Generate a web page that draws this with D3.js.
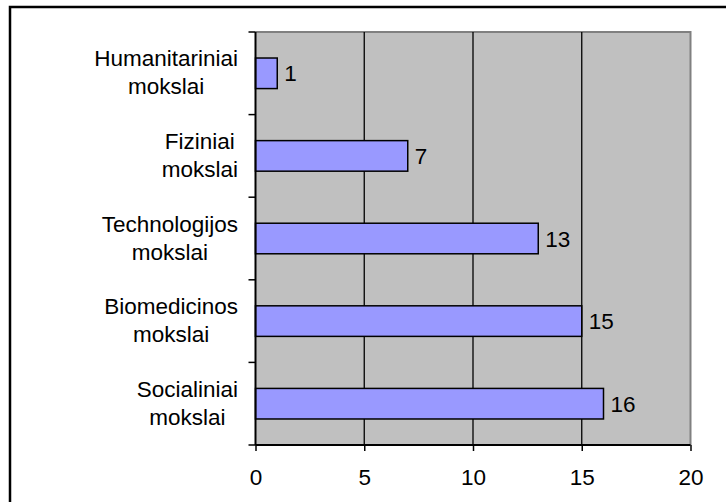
<!DOCTYPE html>
<html>
<head>
<meta charset="utf-8">
<script src="https://cdn.jsdelivr.net/npm/d3@7"></script>
<style>
  body { margin: 0; background: #fff; }
  svg text { font-family: "Liberation Sans", Arial, sans-serif; fill: #000; }
</style>
</head>
<body>
<svg></svg>
<script>
// data, top to bottom
let categories = [
  ["Humanitariniai", "mokslai"],
  ["Fiziniai", "mokslai"],
  ["Technologijos", "mokslai"],
  ["Biomedicinos", "mokslai"],
  ["Socialiniai", "mokslai"]
]
let values = [1, 7, 13, 15, 16]
let xTicks = [0, 5, 10, 15, 20]

let width = 726
let height = 502
let plot = { left: 255.5, right: 690.5, top: 32, bottom: 445 }
let fontSize = 22.5

let svg = d3.select("svg")
  .attr("width", width)
  .attr("height", height)

// outer frame, runs off the right and bottom edges
svg.append("rect")
   .attr("x", 10)
   .attr("y", 7)
   .attr("width", 760)
   .attr("height", 560)
   .attr("fill", "#fff")
   .attr("stroke", "#000")
   .attr("stroke-width", 2.5)

let xScale = d3.scaleLinear()
               .domain([0, 20])
               .range([plot.left, plot.right])

// bars get ~37% of each category slot, centred in it
let yScale = d3.scaleBand()
               .domain(d3.range(values.length))
               .range([plot.top, plot.bottom])
               .paddingInner(0.63)
               .paddingOuter(0.315)

let yOuter = d3.scaleBand()
               .domain(d3.range(values.length))
               .range([plot.top, plot.bottom])

// plot background
svg.append("rect")
   .attr("x", plot.left)
   .attr("y", plot.top)
   .attr("width", plot.right - plot.left)
   .attr("height", plot.bottom - plot.top)
   .attr("fill", "#c0c0c0")

// top and right border are grey
svg.append("path")
   .attr("d", `M${plot.left},${plot.top}H${plot.right}V${plot.bottom}`)
   .attr("fill", "none")
   .attr("stroke", "#808080")
   .attr("stroke-width", 2)

// vertical gridlines
svg.selectAll(".grid")
   .data(xTicks.filter(t => t > 0 && t < 20))
   .enter()
   .append("line")
   .attr("class", "grid")
   .attr("x1", d => xScale(d))
   .attr("x2", d => xScale(d))
   .attr("y1", plot.top)
   .attr("y2", plot.bottom)
   .attr("stroke", "#000")
   .attr("stroke-width", 1.3)

// bars
svg.selectAll(".bar")
   .data(values)
   .enter()
   .append("rect")
   .attr("class", "bar")
   .attr("x", xScale(0))
   .attr("y", (d, i) => yScale(i))
   .attr("width", d => xScale(d) - xScale(0))
   .attr("height", yScale.bandwidth())
   .attr("fill", "#9999ff")
   .attr("stroke", "#000")
   .attr("stroke-width", 1.5)

// value labels
svg.selectAll(".val")
   .data(values)
   .enter()
   .append("text")
   .attr("class", "val")
   .attr("x", d => xScale(d) + 7)
   .attr("y", (d, i) => yScale(i) + yScale.bandwidth() / 2 + 8)
   .attr("font-size", fontSize)
   .text(d => d)

// x axis
let xAxis = d3.axisBottom(xScale)
              .tickValues(xTicks)
              .tickSize(6)
              .tickPadding(18)
let gx = svg.append("g")
            .attr("transform", "translate(0," + plot.bottom + ")")
            .call(xAxis)
gx.select(".domain").attr("stroke", "#000").attr("stroke-width", 2)
  .attr("d", `M${plot.left},0H${plot.right}`)
gx.selectAll(".tick line").attr("stroke", "#000").attr("stroke-width", 1.5)
gx.selectAll(".tick text")
  .attr("font-size", fontSize)
  .attr("font-family", null)
  .attr("fill", "#000")

// y axis: ticks sit on the band boundaries
let boundaries = d3.range(values.length + 1).map(i =>
  i < values.length ? yOuter(i) : plot.bottom)
let gy = svg.append("g")
svg.append("line")
   .attr("x1", plot.left).attr("x2", plot.left)
   .attr("y1", plot.top).attr("y2", plot.bottom)
   .attr("stroke", "#000").attr("stroke-width", 2)
gy.selectAll("line")
  .data(boundaries)
  .enter()
  .append("line")
  .attr("x1", plot.left - 7)
  .attr("x2", plot.left)
  .attr("y1", d => d)
  .attr("y2", d => d)
  .attr("stroke", "#000")
  .attr("stroke-width", 1.5)

// category labels: lines centred on each other, block right aligned
let labelRight = 238
categories.forEach((lines, i) => {
  let cy = yOuter(i) + yOuter.bandwidth() / 2
  let g = svg.append("g")
  let texts = lines.map((line, j) =>
    g.append("text")
     .attr("font-size", fontSize)
     .attr("text-anchor", "middle")
     .attr("y", cy - 7 + j * 28)
     .text(line))
  let maxW = d3.max(texts, t => t.node().getComputedTextLength())
  texts.forEach(t => t.attr("x", labelRight - maxW / 2))
})
</script>
</body>
</html>
